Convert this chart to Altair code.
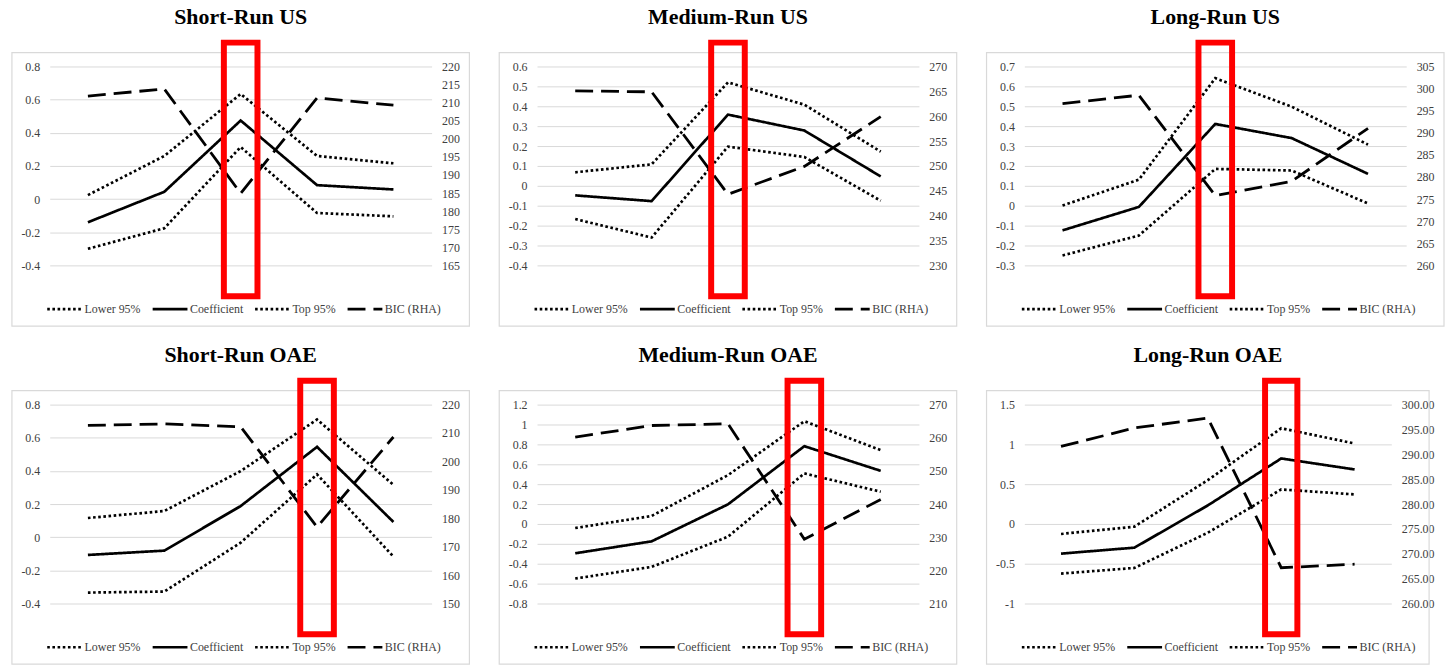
import altair as alt
import pandas as pd

FONT = "Liberation Serif"
YEARS = [-2, -1, 0, 1, 2]
SERIES = ["Lower 95%", "Coefficient", "Top 95%", "BIC (RHA)"]

# ---- Short-Run US ----
sr_us_lower = [-0.30, -0.176, 0.314, -0.084, -0.104]
sr_us_coef = [-0.14, 0.044, 0.474, 0.084, 0.058]
sr_us_top = [0.024, 0.26, 0.634, 0.26, 0.216]
sr_us_bic = [211.8, 213.8, 184.9, 211.3, 209.3]
sr_us_left_ticks = [-0.4, -0.2, 0, 0.2, 0.4, 0.6, 0.8]
sr_us_right_ticks = [165, 170, 175, 180, 185, 190, 195, 200, 205, 210, 215, 220]

# ---- Medium-Run US ----
mr_us_lower = [-0.167, -0.26, 0.197, 0.145, -0.075]
mr_us_coef = [-0.048, -0.077, 0.358, 0.278, 0.047]
mr_us_top = [0.068, 0.108, 0.52, 0.408, 0.172]
mr_us_bic = [265.1, 264.9, 244.3, 249.9, 259.9]
mr_us_left_ticks = [-0.4, -0.3, -0.2, -0.1, 0, 0.1, 0.2, 0.3, 0.4, 0.5, 0.6]
mr_us_right_ticks = [230, 235, 240, 245, 250, 255, 260, 265, 270]

# ---- Long-Run US ----
lr_us_lower = [-0.25, -0.15, 0.185, 0.177, 0.011]
lr_us_coef = [-0.124, -0.006, 0.411, 0.34, 0.16]
lr_us_top = [0.001, 0.131, 0.641, 0.498, 0.307]
lr_us_bic = [296.6, 298.5, 275.8, 279.0, 291.0]
lr_us_left_ticks = [-0.3, -0.2, -0.1, 0, 0.1, 0.2, 0.3, 0.4, 0.5, 0.6, 0.7]
lr_us_right_ticks = [260, 265, 270, 275, 280, 285, 290, 295, 300, 305]

# ---- Short-Run OAE ----
sr_oae_lower = [-0.334, -0.328, -0.033, 0.379, -0.117]
sr_oae_coef = [-0.107, -0.081, 0.188, 0.545, 0.092]
sr_oae_top = [0.116, 0.158, 0.399, 0.71, 0.316]
sr_oae_bic = [212.7, 213.2, 212.2, 176.9, 208.6]
sr_oae_left_ticks = [-0.4, -0.2, 0, 0.2, 0.4, 0.6, 0.8]
sr_oae_right_ticks = [150, 160, 170, 180, 190, 200, 210, 220]

# ---- Medium-Run OAE ----
mr_oae_lower = [-0.549, -0.432, -0.128, 0.508, 0.324]
mr_oae_coef = [-0.295, -0.175, 0.197, 0.782, 0.534]
mr_oae_top = [-0.041, 0.08, 0.491, 1.033, 0.742]
mr_oae_bic = [260.2, 263.7, 264.2, 229.4, 241.4]
mr_oae_left_ticks = [-0.8, -0.6, -0.4, -0.2, 0, 0.2, 0.4, 0.6, 0.8, 1, 1.2]
mr_oae_right_ticks = [210, 220, 230, 240, 250, 260, 270]

# ---- Long-Run OAE ----
lr_oae_lower = [-0.624, -0.553, -0.11, 0.434, 0.371]
lr_oae_coef = [-0.373, -0.298, 0.233, 0.823, 0.685]
lr_oae_top = [-0.126, -0.034, 0.551, 1.203, 1.011]
lr_oae_bic = [291.6, 295.3, 297.3, 267.2, 267.9]
lr_oae_left_ticks = [-1, -0.5, 0, 0.5, 1, 1.5]
lr_oae_right_ticks = [260, 265, 270, 275, 280, 285, 290, 295, 300]

W, H = 384, 200
LABEL_COLOR = "#404040"
GRID_COLOR = "#d9d9d9"


def panel(title, lower, coef, top, bic, lticks, rticks, rfmt, event, width=W):
    lo, hi = lticks[0], lticks[-1]
    span = hi - lo
    rlo, rhi = rticks[0], rticks[-1]
    x_per_px = 5.0 / width

    rows = []
    for name, vals in zip(SERIES[:3], [lower, coef, top]):
        for yr, v in zip(YEARS, vals):
            rows.append({"year": yr, "value": v, "series": name})
    left_df = pd.DataFrame(rows)
    bic_df = pd.DataFrame({"year": YEARS, "value": bic, "series": SERIES[3]})

    x_enc = alt.X(
        "year:Q",
        scale=alt.Scale(domain=[-2.5, 2.5], nice=False, zero=False),
        axis=alt.Axis(values=YEARS, grid=False, domain=False, ticks=False, title=None,
                      labelExpr="'' + datum.value", labelFont=FONT, labelFontSize=12,
                      labelColor=LABEL_COLOR, labelPadding=10),
    )
    left_scale = alt.Scale(domain=[lo, hi], nice=False, zero=False)

    dash = alt.StrokeDash(
        "series:N",
        scale=alt.Scale(domain=SERIES, range=[[2.6, 2.6], [1, 0], [2.6, 2.6], [18, 8]]),
        legend=alt.Legend(
            orient="none", legendX=-4, legendY=H + 25, direction="horizontal", title=None,
            symbolType="stroke", symbolSize=1225, symbolStrokeWidth=2.6,
            symbolStrokeColor="black", labelFont=FONT, labelFontSize=12,
            labelColor=LABEL_COLOR, labelOffset=1, columnPadding=6, padding=0,
        ),
    )

    # light frame around each chart
    frame_df = pd.DataFrame({
        "x": [-2.5 - 38 * x_per_px], "x2": [2.5 + 38 * x_per_px],
        "y": [hi + span * 14 / H], "y2": [lo - span * 61 / H],
    })
    frame = alt.Chart(frame_df).mark_rect(fillOpacity=0, stroke=GRID_COLOR, strokeWidth=1.2).encode(
        x=alt.X("x:Q", scale=alt.Scale(domain=[-2.5, 2.5], nice=False, zero=False), axis=None),
        x2="x2:Q",
        y=alt.Y("y:Q", scale=left_scale, axis=None),
        y2="y2:Q",
    )

    lines = alt.Chart(left_df).mark_line(color="black", strokeWidth=2.7).encode(
        x=x_enc,
        y=alt.Y("value:Q", scale=left_scale,
                axis=alt.Axis(values=lticks, grid=True, gridColor=GRID_COLOR, gridWidth=1,
                              domain=False, ticks=False, title=None,
                              labelExpr="'' + datum.value", labelFont=FONT, labelFontSize=12,
                              labelColor=LABEL_COLOR, labelPadding=10)),
        strokeDash=dash,
        detail="series:N",
    )

    bic_line = alt.Chart(bic_df).mark_line(color="black", strokeWidth=2.8).encode(
        x=x_enc,
        y=alt.Y("value:Q", scale=alt.Scale(domain=[rlo, rhi], nice=False, zero=False),
                axis=alt.Axis(orient="right", values=rticks, grid=False, domain=False,
                              ticks=False, title=None, format=rfmt, labelFont=FONT,
                              labelFontSize=12, labelColor=LABEL_COLOR, labelPadding=10)),
        strokeDash=dash,
    )

    # red box marking the event year
    box_df = pd.DataFrame({
        "x": [event - 0.22], "x2": [event + 0.22],
        "y": [hi + span * 24 / H], "y2": [lo - span * 31 / H],
    })
    box = alt.Chart(box_df).mark_rect(fillOpacity=0, stroke="#ff0000", strokeWidth=6).encode(
        x=alt.X("x:Q", scale=alt.Scale(domain=[-2.5, 2.5], nice=False, zero=False), axis=None),
        x2="x2:Q",
        y=alt.Y("y:Q", scale=left_scale, axis=None),
        y2="y2:Q",
    )

    return alt.layer(frame, lines, bic_line, box).resolve_scale(y="independent").properties(
        width=width, height=H,
        title=alt.TitleParams(title, font=FONT, fontSize=22, fontWeight="bold", color="black",
                              anchor="middle", frame="group", offset=11),
    )


panels = [
    panel("Short-Run US", sr_us_lower, sr_us_coef, sr_us_top, sr_us_bic,
          sr_us_left_ticks, sr_us_right_ticks, "d", 0),
    panel("Medium-Run US", mr_us_lower, mr_us_coef, mr_us_top, mr_us_bic,
          mr_us_left_ticks, mr_us_right_ticks, "d", 0),
    panel("Long-Run US", lr_us_lower, lr_us_coef, lr_us_top, lr_us_bic,
          lr_us_left_ticks, lr_us_right_ticks, "d", 0),
    panel("Short-Run OAE", sr_oae_lower, sr_oae_coef, sr_oae_top, sr_oae_bic,
          sr_oae_left_ticks, sr_oae_right_ticks, "d", 1),
    panel("Medium-Run OAE", mr_oae_lower, mr_oae_coef, mr_oae_top, mr_oae_bic,
          mr_oae_left_ticks, mr_oae_right_ticks, "d", 1),
    panel("Long-Run OAE", lr_oae_lower, lr_oae_coef, lr_oae_top, lr_oae_bic,
          lr_oae_left_ticks, lr_oae_right_ticks, ".2f", 1, width=369),
]

chart = alt.concat(
    *panels, columns=3, spacing={"row": 140, "column": 106}, bounds="flush"
).resolve_scale(
    strokeDash="independent"
).resolve_legend(
    strokeDash="independent"
).properties(
    padding={"left": 10, "top": 3, "right": 0, "bottom": 0},
    background="white",
).configure_view(stroke="transparent")

chart.save("out.html", embed_options={"renderer": "svg", "actions": False})
